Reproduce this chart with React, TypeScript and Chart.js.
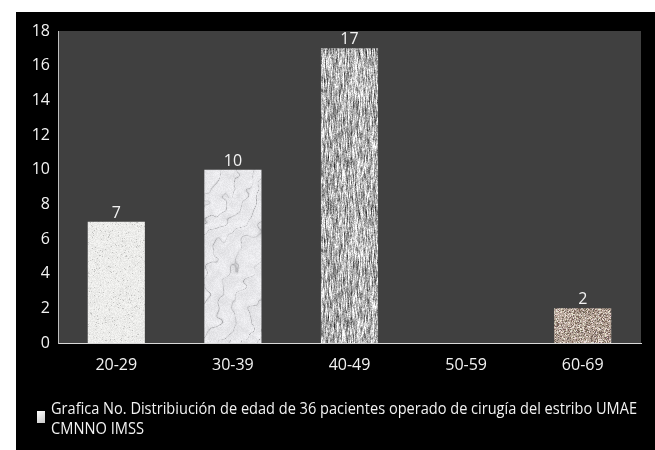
import React, { useEffect, useRef } from "react";
import { Chart, registerables } from "chart.js";

Chart.register(...registerables);

const categories = ["20-29", "30-39", "40-49", "50-59", "60-69"];
const counts = [7, 10, 17, 0, 2];
const textures = ["speckle", "marble", "streak", "speckle", "granite"];
const yMin = 0;
const yMax = 18;
const yStep = 2;
const legendLines = [
  "Grafica No. Distribiución de edad de 36 pacientes operado de cirugía del estribo UMAE",
  "CMNNO IMSS",
];

function rng(seed: number) {
  let a = seed;
  return function () {
    a |= 0;
    a = (a + 0x6d2b79f5) | 0;
    let t = Math.imul(a ^ (a >>> 15), 1 | a);
    t = (t + Math.imul(t ^ (t >>> 7), 61 | t)) ^ t;
    return ((t ^ (t >>> 14)) >>> 0) / 4294967296;
  };
}

function valueNoise(w: number, h: number, cell: number, rand: () => number) {
  const gw = Math.ceil(w / cell) + 2;
  const gh = Math.ceil(h / cell) + 2;
  const g: number[] = [];
  for (let i = 0; i < gw * gh; i++) g.push(rand());
  return (x: number, y: number) => {
    const gx = x / cell;
    const gy = y / cell;
    const x0 = Math.floor(gx);
    const y0 = Math.floor(gy);
    const fx = gx - x0;
    const fy = gy - y0;
    const sx = fx * fx * (3 - 2 * fx);
    const sy = fy * fy * (3 - 2 * fy);
    const a = g[y0 * gw + x0];
    const b = g[y0 * gw + x0 + 1];
    const c = g[(y0 + 1) * gw + x0];
    const d = g[(y0 + 1) * gw + x0 + 1];
    return (a * (1 - sx) + b * sx) * (1 - sy) + (c * (1 - sx) + d * sx) * sy;
  };
}

function makeTexture(ctx: CanvasRenderingContext2D, kind: string, seed: number) {
  const w = kind === "marble" ? 320 : 96;
  const h = kind === "marble" ? 340 : 160;
  const c = document.createElement("canvas");
  c.width = w;
  c.height = h;
  const cx = c.getContext("2d")!;
  const img = cx.createImageData(w, h);
  const d = img.data;
  const rand = rng(seed);
  const set = (x: number, y: number, r: number, g: number, b: number) => {
    const i = (y * w + x) * 4;
    d[i] = Math.max(0, Math.min(255, r));
    d[i + 1] = Math.max(0, Math.min(255, g));
    d[i + 2] = Math.max(0, Math.min(255, b));
    d[i + 3] = 255;
  };
  if (kind === "speckle") {
    for (let y = 0; y < h; y++)
      for (let x = 0; x < w; x++) {
        const r = rand();
        let v = 226 + rand() * 20;
        if (r < 0.05) v = 190 + rand() * 25;
        set(x, y, v, v, v - 2);
      }
  } else if (kind === "marble") {
    const n1 = valueNoise(w, h, 30, rand);
    const n2 = valueNoise(w, h, 7, rand);
    const n3 = valueNoise(w, h, 14, rand);
    for (let y = 0; y < h; y++)
      for (let x = 0; x < w; x++) {
        const t = (x * 0.8 + y * 0.5) / 5 + 6 * n1(x, y) + 2 * n2(x, y);
        const s = Math.abs(Math.sin(t));
        const vein = Math.pow(1 - s, 10) * (0.4 + n3(x, y));
        const v = 232 + rand() * 14 - vein * 55 - n2(x, y) * 14;
        set(x, y, v, v, v + 3);
      }
  } else if (kind === "streak") {
    const raw: number[] = [];
    for (let i = 0; i < w * h; i++) raw.push(rand());
    for (let y = 0; y < h; y++)
      for (let x = 0; x < w; x++) {
        let s = 0;
        for (let k = -3; k <= 3; k++) {
          const yy = (y + k + h) % h;
          s += raw[yy * w + x];
        }
        s /= 7;
        const n = raw[((y * 7 + 3) % h) * w + ((x * 3 + 1) % w)];
        const v = 178 + (s - 0.5) * 380 + (n - 0.5) * 50;
        set(x, y, v, v, v);
      }
  } else {
    for (let y = 0; y < h; y++)
      for (let x = 0; x < w; x++) {
        const r = rand();
        if (r < 0.22) set(x, y, 110 + rand() * 20, 95 + rand() * 15, 85 + rand() * 15);
        else if (r > 0.8) set(x, y, 220 + rand() * 20, 210 + rand() * 20, 200 + rand() * 20);
        else {
          const j = rand() * 25;
          set(x, y, 168 + j, 152 + j, 140 + j);
        }
      }
  }
  cx.putImageData(img, 0, 0);
  return ctx.createPattern(c, "repeat")!;
}

const FONT = "'Open Sans', 'DejaVu Sans', sans-serif";

export default function App() {
  const ref = useRef<HTMLCanvasElement | null>(null);
  useEffect(() => {
    const canvas = ref.current!;
    const ctx = canvas.getContext("2d")!;
    const patterns = textures.map((k, i) => makeTexture(ctx, k, 101 + i * 37));

    const bgPlugin = {
      id: "bg",
      beforeDraw(chart: any) {
        const c = chart.ctx;
        const a = chart.chartArea;
        c.save();
        c.fillStyle = "#ffffff";
        c.fillRect(0, 0, chart.width, chart.height);
        c.fillStyle = "#000000";
        c.fillRect(16, 12, chart.width - 16, chart.height - 12);
        c.fillStyle = "#404040";
        c.fillRect(a.left, a.top, a.right - a.left, a.bottom - a.top);
        c.restore();
      },
    };

    const labelPlugin = {
      id: "vals",
      afterDatasetsDraw(chart: any) {
        const c = chart.ctx;
        const meta = chart.getDatasetMeta(0);
        c.save();
        c.font = `16px ${FONT}`;
        c.fillStyle = "#f2f2f2";
        c.textAlign = "center";
        c.textBaseline = "alphabetic";
        meta.data.forEach((el: any, i: number) => {
          const v = counts[i];
          if (!v) return;
          c.fillText(String(v), el.x, el.y - 4);
        });
        c.restore();
      },
    };

    const legendPlugin = {
      id: "customLegend",
      afterDraw(chart: any) {
        const c = chart.ctx;
        const a = chart.chartArea;
        c.save();
        const sqX = 37;
        const sqY = a.bottom + 68;
        const g = c.createLinearGradient(sqX, sqY, sqX + 8, sqY + 12);
        g.addColorStop(0, "#ffffff");
        g.addColorStop(1, "#c8c8c8");
        c.fillStyle = g;
        c.fillRect(sqX, sqY, 8, 12);
        c.font = `17px ${FONT}`;
        c.fillStyle = "#f2f2f2";
        c.textAlign = "left";
        c.textBaseline = "middle";
        c.fillText(legendLines[0], 51, a.bottom + 66, 586);
        const w2 = c.measureText(legendLines[1]).width;
        c.fillText(legendLines[1], 51, a.bottom + 86, Math.min(w2, 93));
        c.restore();
      },
    };

    const chart = new Chart(canvas, {
      type: "bar",
      data: {
        labels: categories,
        datasets: [
          {
            label: legendLines.join(" "),
            data: counts,
            backgroundColor: patterns as any,
            borderWidth: 0,
            barPercentage: 0.49,
            categoryPercentage: 1,
          },
        ],
      },
      options: {
        animation: false,
        responsive: false,
        layout: { padding: { left: 16, right: 14, top: 31, bottom: 67 } },
        plugins: { legend: { display: false }, tooltip: { enabled: false } },
        scales: {
          x: {
            grid: { display: false, drawTicks: false },
            border: { display: true, color: "#d9d9d9", width: 1 },
            ticks: {
              color: "#f2f2f2",
              font: { family: FONT, size: 16 },
              padding: 13,
              maxRotation: 0,
            },
            afterFit(s: any) {
              s.height = 40;
            },
          },
          y: {
            min: yMin,
            max: yMax,
            grid: { display: false, drawTicks: false },
            border: { display: true, color: "#bfbfbf", width: 1 },
            ticks: {
              stepSize: yStep,
              color: "#f2f2f2",
              font: { family: FONT, size: 16 },
              padding: 8,
            },
            afterFit(s: any) {
              s.width = 42;
            },
          },
        },
      },
      plugins: [bgPlugin, labelPlugin, legendPlugin],
    });
    return () => chart.destroy();
  }, []);

  return (
    <div style={{ position: "absolute", left: 0, top: 0, width: 655, height: 450 }}>
      <canvas ref={ref} width={655} height={450} style={{ width: 655, height: 450, display: "block" }} />
    </div>
  );
}
